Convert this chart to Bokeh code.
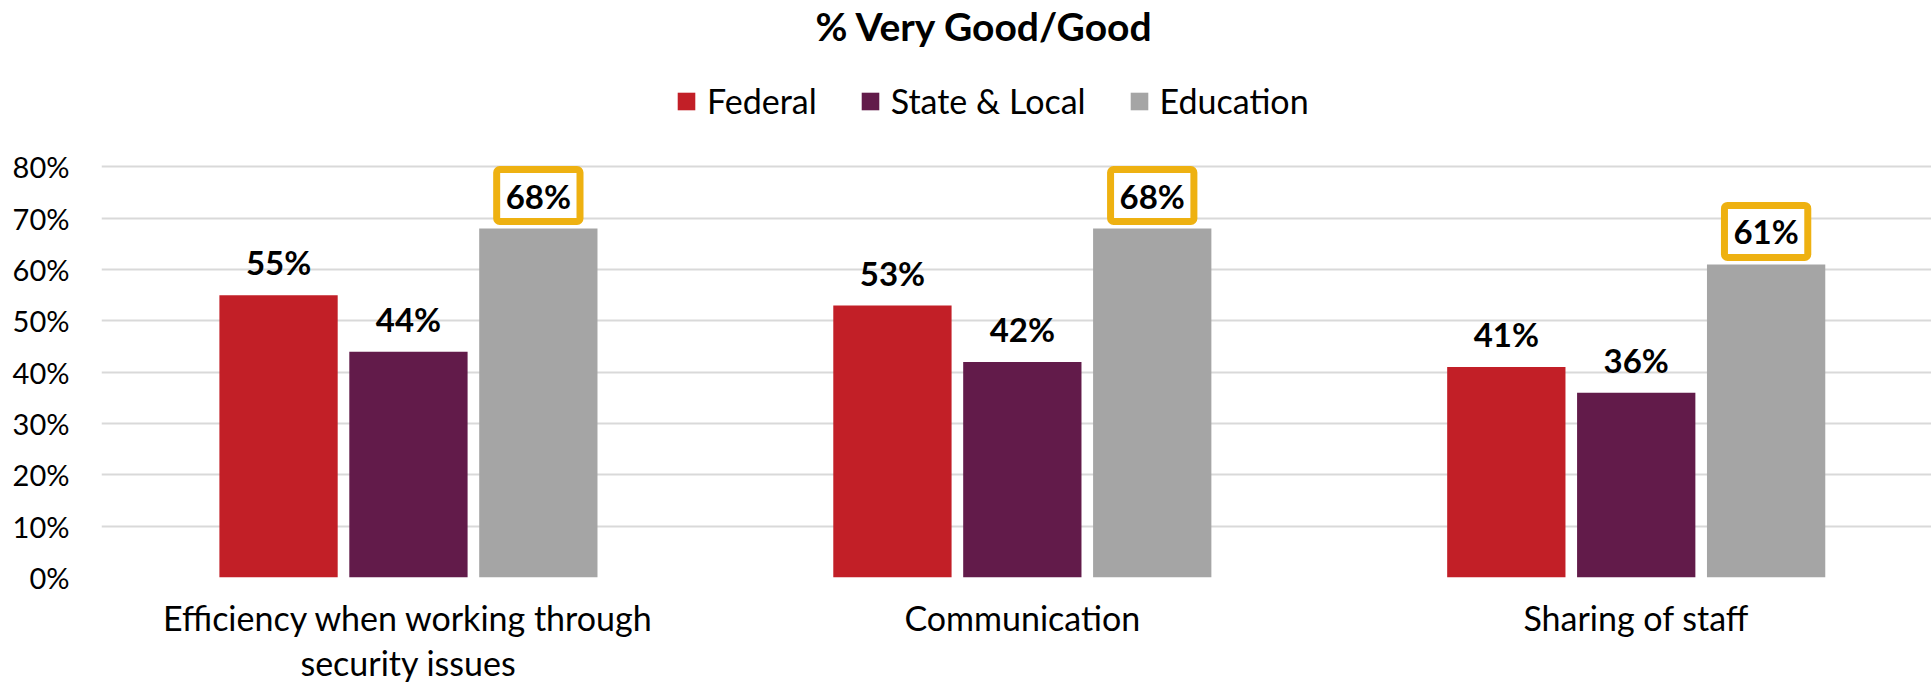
import numpy as np
from bokeh.plotting import figure
from bokeh.models import (ColumnDataSource, Range1d, FixedTicker, Legend, LegendItem, Title)
from bokeh.core.properties import value
from bokeh.embed import file_html
from bokeh.resources import INLINE

# ---- data ----
categories = ["Efficiency when working through\nsecurity issues", "Communication", "Sharing of staff"]
series = ["Federal", "State & Local", "Education"]
federal = [55, 53, 41]
state_local = [44, 42, 36]
education = [68, 68, 61]
y_ticks = [0, 10, 20, 30, 40, 50, 60, 70, 80]
y_tick_labels = ["0%", "10%", "20%", "30%", "40%", "50%", "60%", "70%", "80%"]
title_text = "% Very Good/Good"

# ---- style ----
FONT = "Lato"
colors = ["#C21F27", "#621B4A", "#A5A5A5"]
highlight = "#EEB111"
W, H = 1931, 687
bar_w = 0.1927
dodge = 0.2116

p = figure(width=W, height=H, output_backend="svg", toolbar_location=None,
           x_range=Range1d(0, 2.981), y_range=Range1d(0, 102.3),
           min_border_left=101, min_border_right=0, min_border_top=51, min_border_bottom=110)
p.outline_line_color = None
p.background_fill_color = "white"
p.border_fill_color = "white"

centers = np.arange(len(categories)) + 0.5
all_vals = [federal, state_local, education]
renderers = []
for i, vals in enumerate(all_vals):
    src = ColumnDataSource(dict(x=centers + (i - 1) * dodge, top=vals,
                                lab=[f"{v}%" for v in vals]))
    r = p.vbar(x="x", top="top", width=bar_w, source=src,
               fill_color=colors[i], line_color=None)
    renderers.append(r)
    if i < 2:
        p.text(x="x", y="top", text="lab", source=src, text_align="center",
               text_baseline="alphabetic", y_offset=-33, text_font=value(FONT),
               text_font_style="bold", text_font_size="33px", text_color="black")
    else:
        p.text(x="x", y="top", text="lab", source=src, text_align="center",
               text_baseline="alphabetic", y_offset=-33, text_font=value(FONT),
               text_font_style="bold", text_font_size="33px", text_color="black",
               background_fill_color="white", border_line_color=highlight,
               border_line_width=7, border_radius=3, padding=dict(x=9, y=6))

# axes
p.xaxis.ticker = FixedTicker(ticks=list(centers))
p.xaxis.major_label_overrides = {float(c): lab for c, lab in zip(centers, categories)}
p.yaxis.ticker = FixedTicker(ticks=y_ticks)
p.yaxis.major_label_overrides = {t: l for t, l in zip(y_ticks, y_tick_labels)}
for ax in (p.xaxis, p.yaxis):
    ax.axis_line_color = None
    ax.major_tick_line_color = None
    ax.minor_tick_line_color = None
    ax.major_tick_out = 0
    ax.major_label_text_font = FONT
    ax.major_label_text_color = "black"
p.yaxis.major_label_text_font_size = "29px"
p.yaxis.major_label_standoff = 32
p.xaxis.major_label_text_font_size = "34px"
p.xaxis.major_label_standoff = 19
p.xaxis.major_label_text_line_height = 1.12

p.xgrid.visible = False
p.ygrid.grid_line_color = "#D9D9D9"
p.ygrid.grid_line_width = 2

legend = Legend(items=[LegendItem(label=s, renderers=[r]) for s, r in zip(series, renderers)],
                orientation="horizontal", location=(574, 456),
                glyph_width=22, glyph_height=22, label_standoff=10, spacing=42,
                padding=0, margin=0, border_line_color=None, background_fill_alpha=0,
                label_text_font=FONT, label_text_font_size="34px", label_text_color="black")
p.add_layout(legend, "center")

p.add_layout(Title(text=title_text, align="left", offset=714, standoff=4, vertical_align="top",
                   text_font=FONT, text_font_size="39px", text_font_style="bold",
                   text_color="black"), "above")

open("out.html", "w").write(file_html(p, INLINE))
